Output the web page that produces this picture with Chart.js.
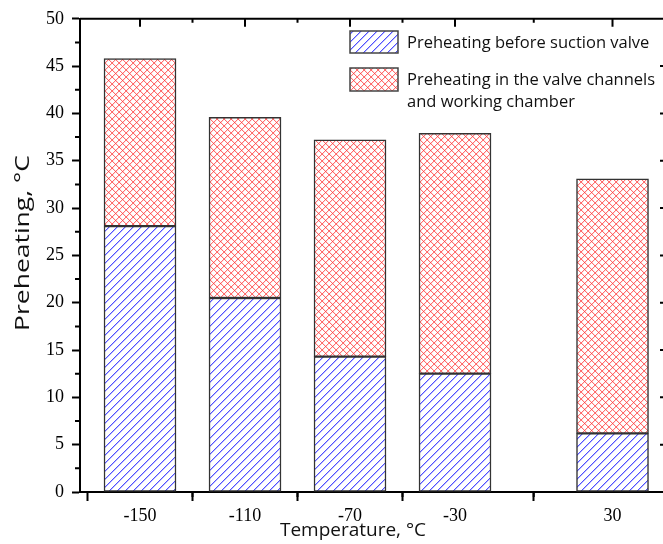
<!DOCTYPE html>
<html>
<head>
<meta charset="utf-8">
<script src="https://cdn.jsdelivr.net/npm/chart.js@4/dist/chart.umd.min.js"></script>
<style>
  html, body { margin: 0; padding: 0; background: #fff; overflow: hidden; }
  #wrap { width: 663px; height: 544px; overflow: hidden; }
  canvas { display: block; }
</style>
</head>
<body>
<div id="wrap"><canvas id="c" width="676" height="544"></canvas></div>
<script>
// Inlet temperature, °C
const temperatures = [-150, -110, -70, -30, 30];
// Preheating before the suction valve, °C
const beforeValve = [28.1, 20.5, 14.3, 12.5, 6.2];
// Preheating in the valve channels and working chamber, °C
const inChamber = [17.7, 19.1, 22.9, 25.4, 26.9];
// Axis tick values
const xMajorTicks = [-150, -110, -70, -30, 30];
const xMinorTicks = [-130, -90, -50, 0];
const xTitle = 'Temperature, °C';
const yTitle = 'Preheating, °C';
const seriesNames = ['Preheating before suction valve',
                     ['Preheating in the valve channels', 'and working chamber']];

// Hatch fill tiles built pixel by pixel: "/" diagonals, optionally crossed with "\"
function hatch(size, rgb, strong, soft, cross) {
  const c = document.createElement('canvas');
  c.width = size; c.height = size;
  const g = c.getContext('2d');
  const img = g.createImageData(size, size);
  const d = img.data;
  for (let i = 0; i < size * size; i++) {
    d[i * 4] = d[i * 4 + 1] = d[i * 4 + 2] = 255; d[i * 4 + 3] = 255;
  }
  const put = (x, y, a) => {
    x = (x + size) % size; y = (y + size) % size;
    const k = (y * size + x) * 4;
    for (let j = 0; j < 3; j++) d[k + j] = Math.round(d[k + j] + (rgb[j] - d[k + j]) * a);
  };
  for (let i = 0; i < size; i++) {
    put(i, size - 1 - i, strong);
    put(i + 1, size - 1 - i, soft);
    if (cross) {
      put(i, i, strong);
      put(i + 1, i, soft);
    }
  }
  g.putImageData(img, 0, 0);
  return g.createPattern(c, 'repeat');
}

const ctx = document.getElementById('c').getContext('2d');
const bluePattern = hatch(8, [60, 60, 255], 0.9, 0.35, false);
const redPattern = hatch(7, [255, 50, 50], 0.7, 0.15, true);

const frameAndTicks = {
  id: 'frameAndTicks',
  afterDraw(chart) {
    const { ctx, chartArea: a, scales } = chart;
    const xs = scales.x, ys = scales.y;
    ctx.save();
    ctx.strokeStyle = '#000000';
    ctx.lineWidth = 2;
    ctx.beginPath();
    // top and right border
    ctx.moveTo(a.left, a.top); ctx.lineTo(a.right, a.top); ctx.lineTo(a.right, a.bottom);
    // minor ticks, left (outward) and right (inward)
    for (let v = 2.5; v < 50; v += 5) {
      const y = ys.getPixelForValue(v);
      ctx.moveTo(a.left - 5, y); ctx.lineTo(a.left, y);
      ctx.moveTo(a.right - 4, y); ctx.lineTo(a.right, y);
    }
    // major ticks on the right (inward)
    for (let v = 5; v < 50; v += 5) {
      const y = ys.getPixelForValue(v);
      ctx.moveTo(a.right - 8, y); ctx.lineTo(a.right, y);
    }
    // minor ticks bottom (outward) and top (inward)
    xMinorTicks.forEach(v => {
      const x = xs.getPixelForValue(v);
      ctx.moveTo(x, a.bottom); ctx.lineTo(x, a.bottom + 5);
      ctx.moveTo(x, a.top); ctx.lineTo(x, a.top + 4);
    });
    // major ticks top (inward)
    xMajorTicks.forEach(v => {
      const x = xs.getPixelForValue(v);
      ctx.moveTo(x, a.top); ctx.lineTo(x, a.top + 8);
    });
    ctx.stroke();

    // axis titles
    ctx.fillStyle = '#111111';
    ctx.textAlign = 'center';
    ctx.textBaseline = 'middle';
    ctx.font = '19px "Open Sans"';
    ctx.fillText(xTitle, 353, 531);
    ctx.save();
    ctx.font = '20px "Open Sans"';
    const w = ctx.measureText(yTitle).width;
    ctx.translate(23, 243);
    ctx.rotate(-Math.PI / 2);
    ctx.scale(176 / w, 1);
    ctx.fillText(yTitle, 0, 0);
    ctx.restore();

    // legend
    const boxes = [[350, 31, 48, 22, bluePattern], [350, 68, 48, 23, redPattern]];
    boxes.forEach(([x, y, w, h, p]) => {
      ctx.fillStyle = p;
      ctx.fillRect(x, y, w, h);
      ctx.strokeStyle = '#444444';
      ctx.lineWidth = 1.5;
      ctx.strokeRect(x, y, w, h);
    });
    ctx.fillStyle = '#111111';
    ctx.font = '16.5px "Open Sans"';
    ctx.textBaseline = 'middle';
    ctx.textAlign = 'left';
    ctx.fillText(seriesNames[0], 407, 43);
    ctx.fillText(seriesNames[1][0], 407, 80);
    ctx.fillText(seriesNames[1][1], 407, 102);
    ctx.restore();
  }
};

new Chart(ctx, {
  type: 'bar',
  data: {
    datasets: [
      {
        label: seriesNames[0],
        data: temperatures.map((t, i) => ({ x: t, y: beforeValve[i] })),
        backgroundColor: bluePattern,
        borderColor: '#333333',
        borderWidth: 1.5,
        borderSkipped: false,
        barThickness: 72
      },
      {
        label: seriesNames[1].join(' '),
        data: temperatures.map((t, i) => ({ x: t, y: inChamber[i] })),
        backgroundColor: redPattern,
        borderColor: '#333333',
        borderWidth: 1.5,
        borderSkipped: false,
        barThickness: 72
      }
    ]
  },
  options: {
    responsive: false,
    animation: false,
    devicePixelRatio: 1,
    layout: { padding: { top: 16, right: 8, left: 0, bottom: 0 } },
    plugins: { legend: { display: false }, tooltip: { enabled: false } },
    scales: {
      x: {
        type: 'linear',
        stacked: true,
        offset: false,
        min: -172.86,
        max: 51.14,
        afterBuildTicks: s => { s.ticks = xMajorTicks.map(v => ({ value: v })); },
        afterFit: s => { s.height = 52; },
        grid: { drawOnChartArea: false, drawTicks: true, tickLength: 9, tickWidth: 2, tickColor: '#000000' },
        border: { display: true, color: '#000000', width: 2 },
        ticks: {
          color: '#000000',
          padding: 4,
          maxRotation: 0,
          autoSkip: false,
          font: { family: '"Liberation Serif"', size: 18 },
          callback: v => String(v)
        },
        title: { display: false }
      },
      y: {
        stacked: true,
        min: 0,
        max: 50,
        afterFit: s => { s.width = 80; },
        grid: { drawOnChartArea: false, drawTicks: true, tickLength: 8, tickWidth: 2, tickColor: '#000000' },
        border: { display: true, color: '#000000', width: 2 },
        ticks: {
          stepSize: 5,
          color: '#000000',
          padding: 8,
          font: { family: '"Liberation Serif"', size: 18 }
        },
        title: { display: false }
      }
    }
  },
  plugins: [frameAndTicks]
});
</script>
</body>
</html>
